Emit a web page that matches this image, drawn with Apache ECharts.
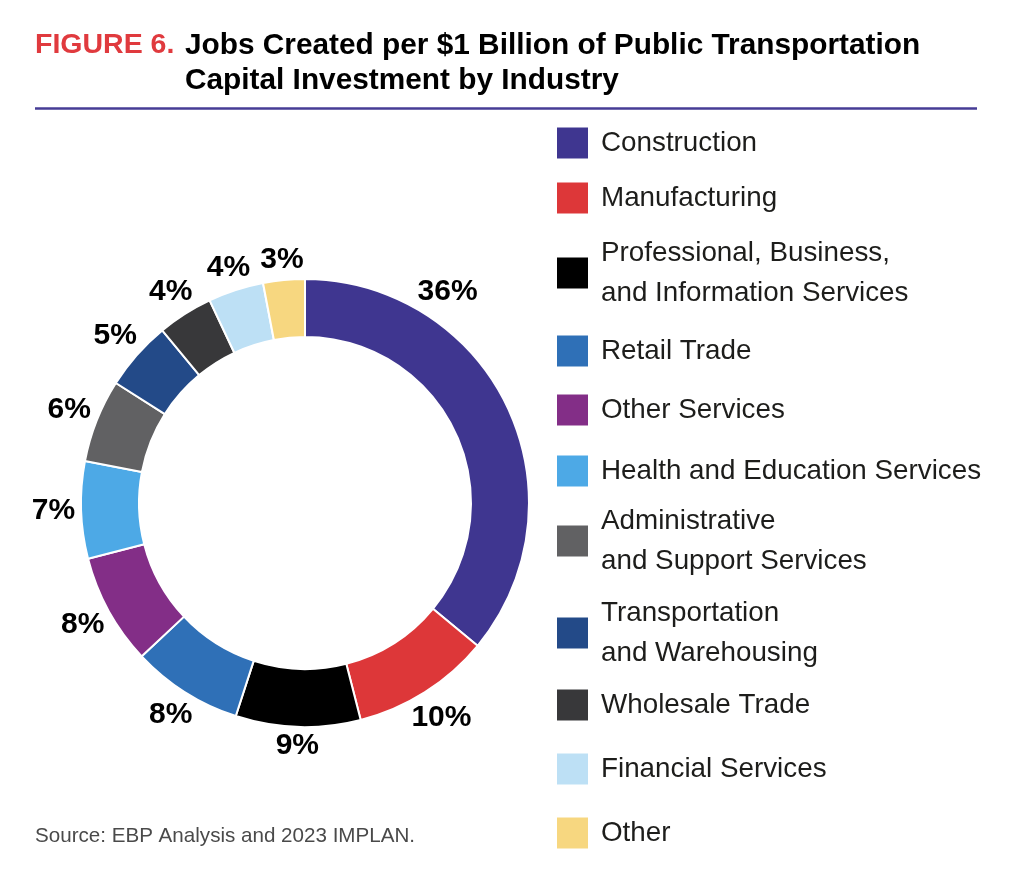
<!DOCTYPE html>
<html>
<head>
<meta charset="utf-8">
<title>Jobs Created per $1 Billion of Public Transportation Capital Investment by Industry</title>
<script src="https://cdn.jsdelivr.net/npm/echarts@6/dist/echarts.min.js"></script>
<style>
    html, body { margin: 0; padding: 0; background: #fff; }
    #chart { width: 1024px; height: 887px; }
</style>
</head>
<body>
<div id="chart"></div>
<script>
// data
var industries = [
    'Construction',
    'Manufacturing',
    'Professional, Business, and Information Services',
    'Retail Trade',
    'Other Services',
    'Health and Education Services',
    'Administrative and Support Services',
    'Transportation and Warehousing',
    'Wholesale Trade',
    'Financial Services',
    'Other'
];
var shares = [36, 10, 9, 8, 8, 7, 6, 5, 4, 4, 3];
var legendLabels = [
    'Construction',
    'Manufacturing',
    'Professional, Business,\nand Information Services',
    'Retail Trade',
    'Other Services',
    'Health and Education Services',
    'Administrative\nand Support Services',
    'Transportation\nand Warehousing',
    'Wholesale Trade',
    'Financial Services',
    'Other'
];

// palette
var colors = ['#3f3690', '#dd3739', '#000000', '#2f70b7', '#832e87', '#4da9e6',
    '#616163', '#234a88', '#38383a', '#bde0f5', '#f7d780'];

var font = '"Liberation Sans", Arial, Helvetica, sans-serif';
var center = [305, 503];
// legend rows are not evenly spaced in the original
var legendCenters = [143, 198, 273, 351, 410, 471, 541, 633, 705, 769, 833];

var total = shares.reduce((a, b) => a + b, 0);
var labelAngles = [];
var acc = 0;
shares.forEach(v => {
    labelAngles.push((acc + v / 2) / total * 360);
    acc += v;
});
// the 36% label sits near the top of its arc rather than at the middle
labelAngles[0] = 34;

var legends = industries.map((name, i) => {
    var lines = legendLabels[i].split('\n').length;
    return {
        data: [name],
        left: 557,
        top: legendCenters[i] - lines * 20,
        padding: 0,
        orient: 'vertical',
        icon: 'rect',
        itemWidth: 31,
        itemHeight: 31,
        selectedMode: false,
        itemStyle: { borderWidth: 0 },
        formatter: () => legendLabels[i],
        textStyle: {
            fontFamily: font,
            fontSize: 27.8,
            lineHeight: 40,
            color: '#1d1d1b',
            padding: [0, 0, 0, 8]
        }
    };
});

var seriesData = industries.map((name, i) => ({
    name: name,
    value: shares[i],
    itemStyle: { color: colors[i] }
}));

var myChart = echarts.init(document.getElementById('chart'));
var option = {
    animation: false,
    title: [
        {
            text: 'FIGURE 6.',
            left: 35,
            top: 28,
            padding: 0,
            textStyle: { fontFamily: font, fontSize: 28.5, fontWeight: 'bold', color: '#e03a3e', lineHeight: 35 }
        },
        {
            text: 'Jobs Created per $1 Billion of Public Transportation\nCapital Investment by Industry',
            left: 185,
            top: 28,
            padding: 0,
            textStyle: { fontFamily: font, fontSize: 29.8, fontWeight: 'bold', color: '#000', lineHeight: 35 }
        },
        {
            text: 'Source: EBP Analysis and 2023 IMPLAN.',
            left: 35,
            top: 824,
            padding: 0,
            textStyle: { fontFamily: font, fontSize: 20.6, fontWeight: 'normal', color: '#4a4a4a', lineHeight: 24 }
        }
    ],
    graphic: [
        {
            type: 'line',
            shape: { x1: 35, y1: 108.5, x2: 977, y2: 108.5 },
            style: { stroke: '#463c96', lineWidth: 2.5 }
        }
    ],
    legend: legends,
    series: [
        {
            name: 'Jobs by industry',
            type: 'pie',
            center: center,
            radius: [166, 224],
            startAngle: 90,
            clockwise: true,
            avoidLabelOverlap: false,
            itemStyle: { borderColor: '#fff', borderWidth: 2 },
            label: {
                show: true,
                position: 'outside',
                formatter: '{c}%',
                fontFamily: font,
                fontSize: 30,
                fontWeight: 'bold',
                color: '#000'
            },
            labelLine: { show: false },
            labelLayout: function (params) {
                // keep a steady gap between the ring and the label's glyph box
                var a = labelAngles[params.dataIndex] * Math.PI / 180;
                var halfW = params.labelRect.width / 2;
                var halfH = 11;
                var reach = Math.abs(Math.sin(a)) * halfW + Math.abs(Math.cos(a)) * halfH;
                var dist = 233 + 0.85 * reach;
                return {
                    x: center[0] + dist * Math.sin(a),
                    y: center[1] - dist * Math.cos(a),
                    align: 'center',
                    verticalAlign: 'middle'
                };
            },
            emphasis: { disabled: true },
            data: seriesData
        }
    ]
};
myChart.setOption(option, true);

window.addEventListener('resize', function () {
    myChart.resize();
});
</script>
</body>
</html>
